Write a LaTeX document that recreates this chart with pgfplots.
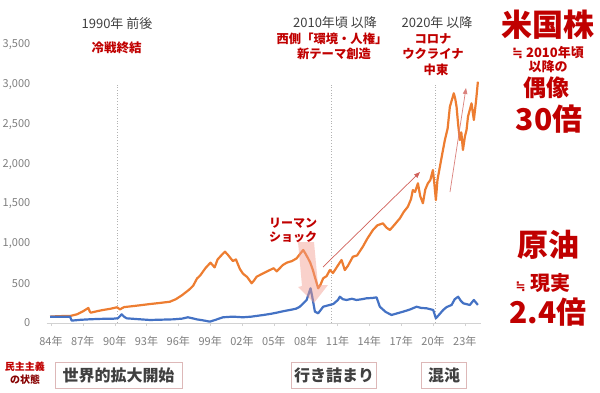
\documentclass[border=0pt]{standalone}
\usepackage{fontspec}
\setmainfont{Noto Sans CJK JP}
\newfontfamily\dejavu{DejaVu Sans}
\usepackage{pgfplots}
\pgfplotsset{compat=1.18}
\usetikzlibrary{arrows.meta}
\definecolor{cOrange}{HTML}{ED7D31}
\definecolor{cBlue}{HTML}{4472C4}
\definecolor{cRed}{HTML}{C00000}
\definecolor{cGray}{HTML}{7F7F7F}
\definecolor{cDark}{HTML}{404040}
\definecolor{cBox}{HTML}{DDB8B8}
\definecolor{cPink}{HTML}{F19A8C}
\definecolor{cArrow}{HTML}{D0605A}

\pgfplotstableread{
x y
1983.91 80
1984.55 85
1985.22 88
1985.79 88
1986.47 110
1987.05 150
1987.52 189
1987.67 140
1987.76 130
1988.39 150
1988.96 165
1989.63 180
1990.22 198
1990.50 172
1990.88 200
1991.55 210
1992.32 222
1993.33 239
1994.24 252
1995.21 268
1995.77 300
1996.35 350
1997.02 420
1997.40 470
1997.76 560
1998.07 600
1998.55 690
1999.03 760
1999.42 700
1999.70 800
2000.18 870
2000.39 898
2000.66 860
2001.14 780
2001.43 800
2001.80 680
2002.10 620
2002.48 580
2002.91 500
2003.16 540
2003.38 583
2003.92 620
2004.63 667
2004.98 690
2005.27 650
2005.85 730
2006.23 760
2006.71 780
2007.15 814
2007.47 870
2007.77 919
2007.95 880
2008.21 818
2008.43 760
2008.68 667
2008.91 560
2009.18 437
2009.39 480
2009.65 563
2009.97 590
2010.28 667
2010.57 629
2010.92 700
2011.21 760
2011.38 793
2011.69 667
2011.98 720
2012.45 835
2012.84 850
2013.39 961
2013.80 1060
2014.34 1171
2014.76 1230
2015.28 1255
2015.62 1200
2015.94 1171
2016.39 1240
2016.88 1318
2017.25 1400
2017.63 1464
2017.93 1560
2018.10 1674
2018.31 1650
2018.58 1759
2018.79 1600
2019.05 1507
2019.27 1680
2019.52 1759
2019.75 1800
2019.99 1926
2020.13 1750
2020.27 1548
2020.42 1800
2020.65 1968
2020.90 2150
2021.12 2304
2021.38 2450
2021.59 2723
2021.76 2800
2021.96 2892
2022.10 2820
2022.22 2723
2022.37 2500
2022.53 2304
2022.67 2400
2022.82 2178
2023.01 2350
2023.16 2430
2023.30 2600
2023.63 2766
2023.85 2556
2024.06 2800
2024.23 3038
}\stocks

\pgfplotstableread{
x y
1983.91 80
1984.84 78
1985.79 80
1985.95 30
1986.76 40
1987.68 47
1988.68 52
1989.85 54
1990.31 60
1990.66 109
1990.88 80
1991.13 59
1992.03 50
1993.33 38
1994.43 42
1995.49 46
1996.35 55
1996.90 72
1997.31 60
1997.73 46
1998.27 35
1998.97 17
1999.51 40
2000.20 72
2001.14 80
2002.09 72
2002.87 80
2003.97 100
2004.69 115
2005.27 130
2005.94 150
2006.51 164
2007.09 180
2007.45 205
2008.09 290
2008.46 437
2008.62 330
2008.87 143
2009.18 122
2009.65 205
2010.06 220
2010.60 239
2011.04 290
2011.22 331
2011.50 300
2011.85 290
2012.36 305
2012.79 290
2013.32 300
2013.74 311
2014.28 315
2014.68 323
2014.99 205
2015.53 140
2016.09 101
2016.58 120
2017.19 143
2017.83 170
2018.45 205
2018.88 190
2019.39 185
2020.02 164
2020.27 59
2020.61 110
2020.96 164
2021.28 200
2021.75 227
2022.05 300
2022.37 331
2022.62 280
2022.85 248
2023.47 227
2023.85 290
2024.23 227
}\oil

\begin{document}
\begin{tikzpicture}[x=1pt,y=1pt]
\path[use as bounding box] (0,0) rectangle (600,392);
\begin{axis}[
  at={(46.75pt,69pt)}, anchor=south west,
  scale only axis, width=434pt, height=278pt,
  xmin=1983.6, xmax=2024.5, ymin=0, ymax=3500,
  axis x line*=bottom, axis y line*=left,
  axis line style={-},
  x axis line style={draw=gray!35, line width=0.8pt},
  y axis line style={draw=none},
  xtick={1984,1987,1990,1993,1996,1999,2002,2005,2008,2011,2014,2017,2020,2023},
  xticklabels={84年,87年,90年,93年,96年,99年,02年,05年,08年,11年,14年,17年,20年,23年},
  ytick={0,500,...,3500},
  tick label style={font=\fontsize{11}{13}\selectfont, text=cGray},
  /pgf/number format/assume math mode=true,
  /pgf/number format/1000 sep={,},
  scaled y ticks=false,
  x tick style={draw=gray!35},
  y tick style={draw=none},
  tick align=outside, major tick length=3pt,
  yticklabel style={xshift=-10pt},
  xticklabel style={yshift=-7pt},
  clip=false,
]
\draw[gray!60, dotted, line width=0.8pt] (axis cs:1990.22,0) -- (axis cs:1990.22,3000);
\draw[gray!60, dotted, line width=0.8pt] (axis cs:2010.47,0) -- (axis cs:2010.47,3000);
\draw[gray!60, dotted, line width=0.8pt] (axis cs:2020.27,0) -- (axis cs:2020.27,3000);
\addplot[cOrange, line width=2.2pt, line join=round] table[x=x,y=y] {\stocks};
\addplot[cBlue, line width=2.2pt, line join=round] table[x=x,y=y] {\oil};
\end{axis}

% Lehman arrow
\fill[cPink, opacity=0.45] (298,150) -- (314,150) -- (318,107) -- (328,107) -- (314,89) -- (298,105) -- (302,106) -- cycle;
\draw[cArrow, line width=0.7pt, -{Triangle[length=6pt,width=4.5pt]}] (323,125) -- (420,220);
\draw[cArrow!80, line width=0.7pt, -{Triangle[length=6pt,width=4.5pt]}] (450,200) -- (466,304);

\node[font=\bfseries\fontsize{12}{14}\selectfont, text=cRed] at (293,169) {リーマン};
\node[font=\bfseries\fontsize{12}{14}\selectfont, text=cRed] at (293,155.3) {ショック};

% top texts
\node[font=\fontsize{13}{15}\selectfont, text=cDark] at (117,368) {1990年 前後};
\node[font=\bfseries\fontsize{12.5}{15}\selectfont, text=cRed] at (116.5,344) {冷戦終結};
\node[font=\fontsize{13}{15}\selectfont, text=cDark] at (335,369) {2010年頃 以降};
\node[font=\bfseries\fontsize{12.3}{15}\selectfont, text=cRed] at (332,353) {西側「環境・人権」};
\node[font=\bfseries\fontsize{12.3}{15}\selectfont, text=cRed] at (334,338) {新テーマ創造};
\node[font=\fontsize{13}{15}\selectfont, text=cDark] at (437,369) {2020年 以降};
\node[font=\bfseries\fontsize{12.3}{15}\selectfont, text=cRed] at (433,353) {コロナ};
\node[font=\bfseries\fontsize{12.3}{15}\selectfont, text=cRed] at (433,338) {ウクライナ};
\node[font=\bfseries\fontsize{12.3}{15}\selectfont, text=cRed] at (436,322) {中東};

% right texts
\node[font=\bfseries\fontsize{31}{34}\selectfont, text=cRed] at (547.5,367) {米国株};
\node[font=\bfseries\fontsize{13}{15}\selectfont, text=cRed] at (548,339) {{\dejavu\bfseries ≒} 2010年頃};
\node[font=\bfseries\fontsize{13}{15}\selectfont, text=cRed] at (548,325.3) {以降の};
\node[font=\bfseries\fontsize{23}{26}\selectfont, text=cRed] at (546,304) {偶像};
\node[font=\bfseries\fontsize{30}{34}\selectfont, text=cRed] at (549,273) {30倍};
\node[font=\bfseries\fontsize{31}{34}\selectfont, text=cRed] at (548,147) {原油};
\node[font=\bfseries\fontsize{20}{24}\selectfont, text=cRed] at (543,109) {{\dejavu\bfseries\fontsize{12}{14}\selectfont ≒} 現実};
\node[font=\bfseries\fontsize{30}{34}\selectfont, text=cRed] at (548,80) {2.4倍};

% bottom
\node[font=\bfseries\fontsize{10}{12}\selectfont, text=cRed] at (25,25) {民主主義};
\node[font=\bfseries\fontsize{10}{12}\selectfont, text=cRed!70!black] at (25,12) {の状態};
\draw[cBox, line width=0.8pt] (55,4) rectangle (182,30);
\node[font=\bfseries\fontsize{16}{18}\selectfont, text=cDark] at (118.5,17) {世界的拡大開始};
\draw[cBox, line width=0.8pt] (291.7,4) rectangle (376,30);
\node[font=\bfseries\fontsize{16}{18}\selectfont, text=cDark] at (334,17) {行き詰まり};
\draw[cBox, line width=0.8pt] (421.7,4) rectangle (466.7,30);
\node[font=\bfseries\fontsize{16}{18}\selectfont, text=cDark] at (444,17) {混沌};
\end{tikzpicture}
\end{document}
